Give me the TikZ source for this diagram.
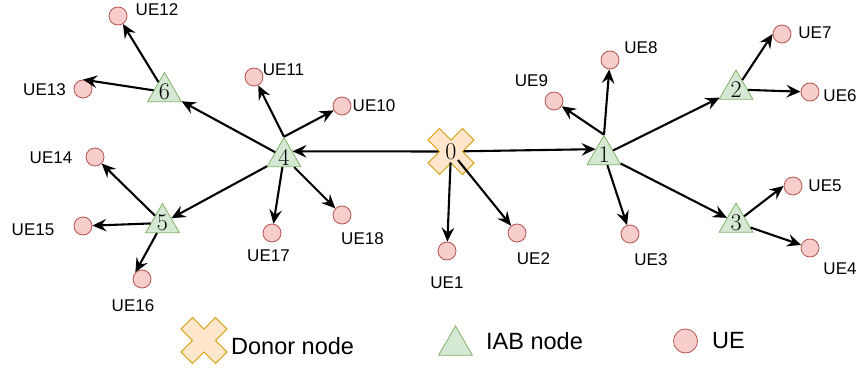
\documentclass[tikz,border=0pt]{standalone}
\usepackage{fontspec}
\newfontfamily\arialf{Liberation Sans}
\usetikzlibrary{arrows.meta,shapes.geometric,calc}
\definecolor{crossfill}{HTML}{FFE6CC}
\definecolor{crossdraw}{HTML}{D79B00}
\definecolor{trifill}{HTML}{D5E8D4}
\definecolor{tridraw}{HTML}{82B366}
\definecolor{uefill}{HTML}{F8CECC}
\definecolor{uedraw}{HTML}{B85450}
\pgfdeclarelayer{bg}
\pgfdeclarelayer{mid}
\pgfsetlayers{bg,mid,main}
\tikzset{
  donorx/.pic={\draw[crossdraw, fill=crossfill, line width=0.8pt]
    (-23,-11.5) -- (-11.5,-23) -- (0,-11.5) -- (11.5,-23) -- (23,-11.5) -- (11.5,0)
    -- (23,11.5) -- (11.5,23) -- (0,11.5) -- (-11.5,23) -- (-23,11.5) -- (-11.5,0) -- cycle;}
}
\begin{document}
\begin{tikzpicture}[x=1pt,y=-1pt,
  ue/.style={circle, draw=uedraw, fill=uefill, line width=0.8pt, minimum size=18pt, inner sep=0pt},
  iab/.style={regular polygon, regular polygon sides=3, draw=tridraw, fill=trifill, line width=0.8pt, minimum size=39pt, inner sep=0pt},
  digit/.style={font=\fontsize{24}{24}\selectfont, inner sep=0pt},
  donor/.style={rectangle, minimum size=46pt, inner sep=0pt, font=\fontsize{24}{24}\selectfont},
  lbl/.style={font=\arialf\fontsize{17}{17}\selectfont, inner sep=0pt},
  leg/.style={font=\arialf\fontsize{23.5}{23.5}\selectfont, inner sep=0pt, anchor=west},
  edge/.style={line width=2.1pt, -{Stealth[length=14pt,width=12.5pt,inset=5pt]}}
]
\useasboundingbox (0,0) rectangle (859,371);

% donor node
\node[donor] (n0) at (451,151.5) {0};
\begin{pgfonlayer}{mid}
\pic at (n0) {donorx};
\end{pgfonlayer}

% IAB nodes
\node[iab, label={[digit]center:1}] (t1) at (604,155) {};
\node[iab, label={[digit]center:2}] (t2) at (736,89.5) {};
\node[iab, label={[digit]center:3}] (t3) at (736,222.5) {};
\node[iab, label={[digit]center:4}] (t4) at (284,157) {};
\node[iab, label={[digit]center:5}] (t5) at (162.5,223) {};
\node[iab, label={[digit]center:6}] (t6) at (164.5,92) {};

% UEs
\node[ue] (ue1) at (447,251) {};
\node[ue] (ue2) at (517,233) {};
\node[ue] (ue3) at (630,234) {};
\node[ue] (ue4) at (810,248) {};
\node[ue] (ue5) at (793,186) {};
\node[ue] (ue6) at (810,92) {};
\node[ue] (ue7) at (782,34) {};
\node[ue] (ue8) at (610,60) {};
\node[ue] (ue9) at (554,101) {};
\node[ue] (ue10) at (342,106) {};
\node[ue] (ue11) at (254,77) {};
\node[ue] (ue12) at (118,16) {};
\node[ue] (ue13) at (83,89) {};
\node[ue] (ue14) at (95,157) {};
\node[ue] (ue15) at (83,226) {};
\node[ue] (ue16) at (142,279) {};
\node[ue] (ue17) at (272,233) {};
\node[ue] (ue18) at (342,215) {};

% UE labels
\node[lbl] (l1) at (447,283) {UE1};
\node[lbl] (l2) at (533.5,259) {UE2};
\node[lbl] (l3) at (651,259.5) {UE3};
\node[lbl] (l4) at (840,269) {UE4};
\node[lbl] (l5) at (825,185.5) {UE5};
\node[lbl] (l6) at (840,96) {UE6};
\node[lbl] (l7) at (815,32.5) {UE7};
\node[lbl] (l8) at (641,47.5) {UE8};
\node[lbl] (l9) at (531.5,81) {UE9};
\node[lbl] (l10) at (374,106) {UE10};
\node[lbl] (l11) at (283.5,69.5) {UE11};
\node[lbl] (l12) at (157,9.5) {UE12};
\node[lbl] (l13) at (44.5,89.5) {UE13};
\node[lbl] (l14) at (51,157.5) {UE14};
\node[lbl] (l15) at (33,230) {UE15};
\node[lbl] (l16) at (133,306) {UE16};
\node[lbl] (l17) at (268.5,256) {UE17};
\node[lbl] (l18) at (362.5,238.5) {UE18};

% edges
\begin{pgfonlayer}{bg}
\draw[edge] (n0.center) -- (t4.34);
\draw[edge] (n0.center) -- (t1.145);
\end{pgfonlayer}
\draw[edge, shorten <=11pt] (n0.center) -- (ue1);
\draw[edge, shorten <=11pt] (n0.center) -- (ue2);

\draw[edge] (t4.corner 1) -- (ue11);
\draw[edge] (t4.corner 1) -- (ue10);
\draw[edge] (t4) -- (t6);
\draw[edge] (t4) -- (t5);
\draw[edge] (t4) -- (ue17);
\draw[edge] (t4) -- (ue18);
\draw[edge] (t6) -- (ue12);
\draw[edge] (t6) -- (ue13.north);
\draw[edge] (t5) -- (ue14);
\draw[edge] (t5) -- (ue15);
\draw[edge] (t5) -- (ue16.north west);
\draw[edge] (t1.corner 1) -- (ue9);
\draw[edge] (t1.corner 1) -- (ue8);
\draw[edge] (t1) -- (t2);
\draw[edge] (t1) -- (ue3);
\draw[edge] (t1) -- (t3);
\draw[edge] (t2) -- (ue7.west);
\draw[edge] (t2) -- (ue6);
\draw[edge] (t3) -- (ue5.west);
\draw[edge] (t3) -- (ue4);

% legend
\node[donor] (lg0) at (204,340.5) {};
\begin{pgfonlayer}{mid}
\pic at (lg0) {donorx};
\end{pgfonlayer}
\node[leg] (lgt0) at (231,346) {Donor node};
\node[iab] (lg1) at (455.5,345.5) {};
\node[leg] (lgt1) at (486,341) {IAB node};
\node[ue, minimum size=24pt] (lg2) at (685.5,341) {};
\node[leg] (lgt2) at (712,341) {UE};
\end{tikzpicture}
\end{document}
